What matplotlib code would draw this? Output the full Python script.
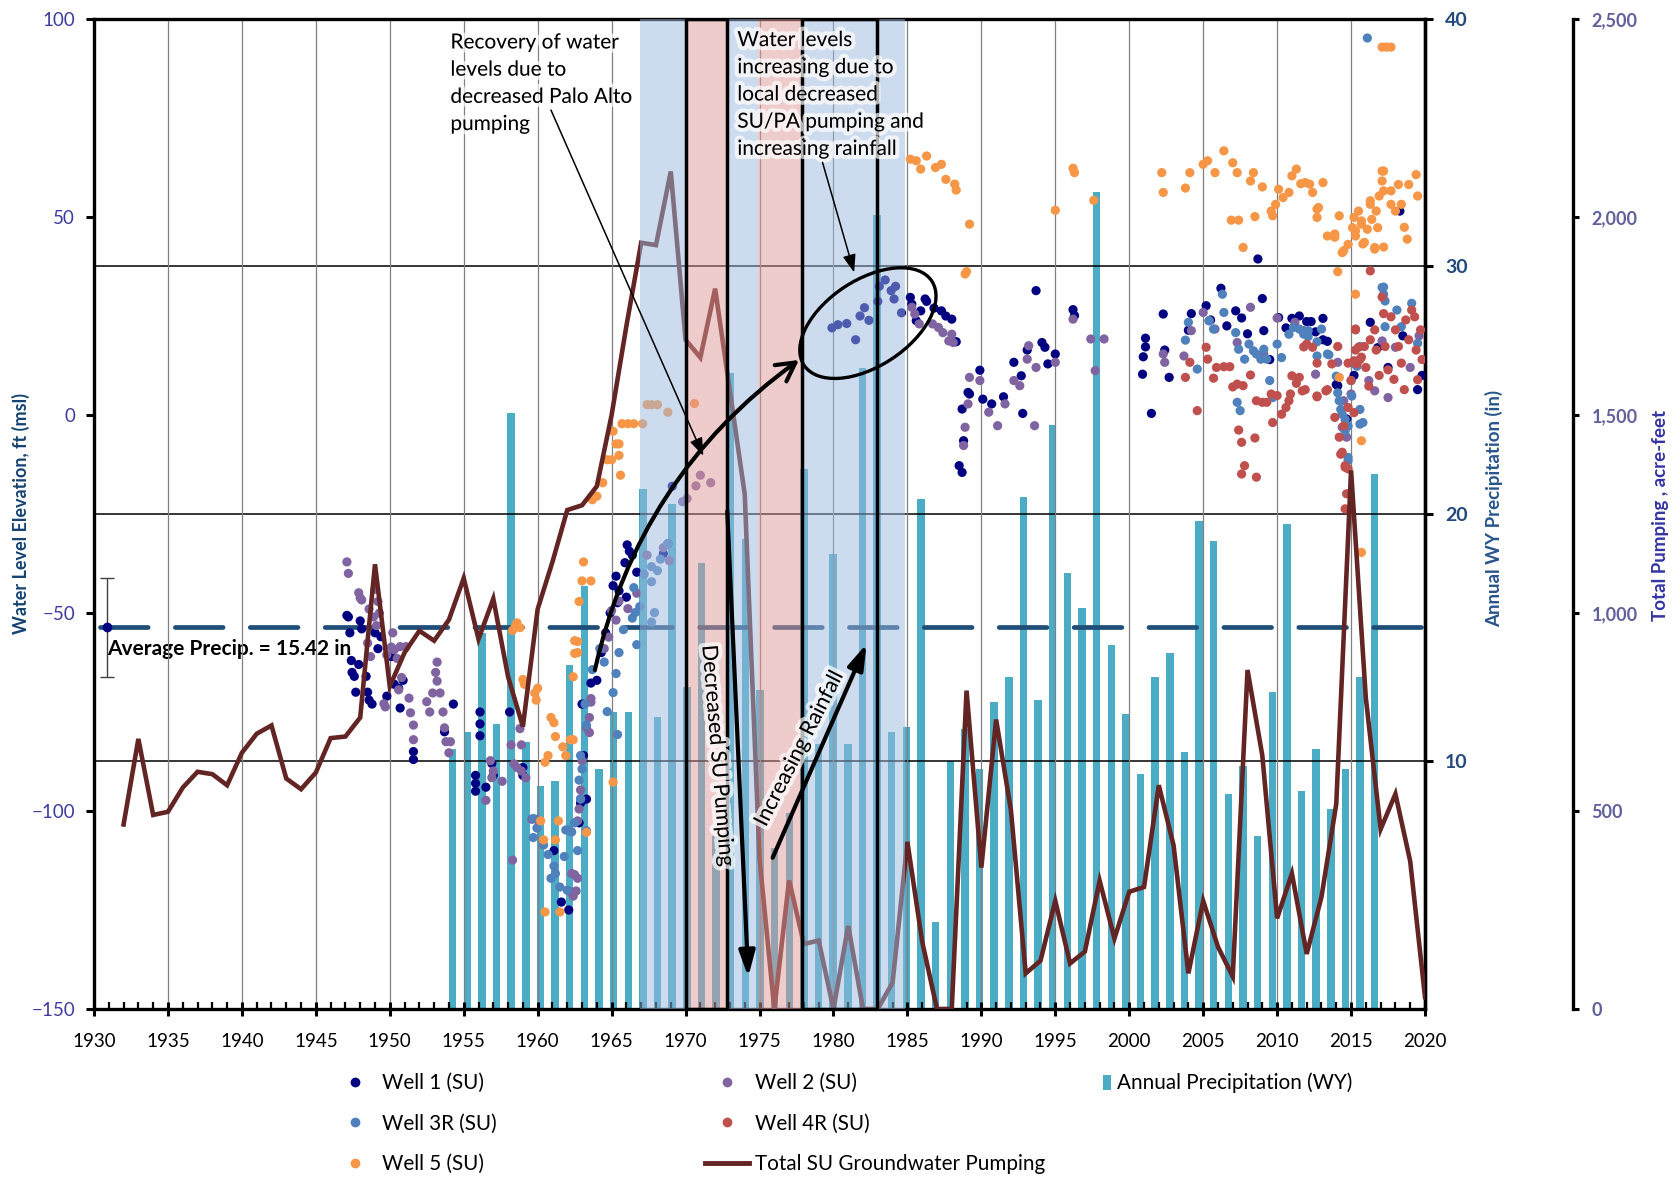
import numpy as np
import matplotlib
matplotlib.use("Agg")
import matplotlib.pyplot as plt
from matplotlib.lines import Line2D
from matplotlib.patches import Patch, Ellipse
import matplotlib.transforms as mtransforms
import matplotlib.patheffects as pe
from matplotlib.ticker import FuncFormatter, MultipleLocator

plt.rcParams['font.family'] = ['Lato', 'DejaVu Sans']

# ---------------- data ----------------
# Annual water-year precipitation (in), WY 1954-2017
precip_years = list(range(1954, 2018))
precip_in = [10.5, 11.2, 15.2, 11.5, 24.1, 10.8, 9.0, 9.2, 13.9, 17.1,
             9.7, 12.0, 12.0, 21.0, 11.8, 20.4, 13.0, 18.0, 7.0, 25.7,
             19.0, 12.9, 6.5, 7.9, 21.8, 10.7, 18.4, 10.7, 25.9, 32.1,
             11.2, 11.4, 20.6, 3.5, 10.0, 11.3, 9.7, 12.4, 13.4, 20.7,
             12.5, 23.6, 17.6, 16.2, 33.0, 14.7, 11.9, 9.5, 13.4, 14.4,
             10.4, 19.7, 18.9, 8.7, 9.8, 7.0, 12.8, 19.6, 8.8, 10.5,
             8.1, 9.7, 13.4, 21.6]
AVG_PRECIP = 15.42

# Total SU groundwater pumping (acre-feet), 1932-2020
pump_years = list(range(1932, 2021))
pump_af = [466, 682, 490, 498, 559, 599, 593, 565, 647, 695,
           716, 582, 555, 597, 684, 688, 736, 1123, 815, 900,
           955, 930, 983, 1088, 934, 1036, 839, 713, 1010, 1129,
           1260, 1272, 1320, 1500, 1725, 1935, 1929, 2115, 1690, 1645,
           1819, 1560, 1300, 380, 0, 325, 164, 173, 0, 210,
           0, 0, 67, 422, 170, 0, 0, 804, 357, 731,
           502, 90, 122, 273, 115, 145, 324, 178, 296, 308,
           565, 413, 90, 273, 157, 82, 856, 640, 229, 342,
           139, 283, 518, 1360, 785, 454, 543, 373, 30]

# Water level measurements (decimal year, ft msl)
well1 = [(1947.1, -50.6), (1947.2, -51), (1947.3, -55), (1947.4, -62), (1947.45, -65),
         (1947.6, -66), (1947.7, -70), (1947.9, -63), (1948.0, -52), (1948.1, -54),
         (1948.4, -66), (1948.5, -70), (1948.6, -72), (1948.8, -73), (1949.0, -55),
         (1949.2, -59), (1949.4, -56), (1949.8, -71), (1950.1, -61), (1950.3, -68),
         (1950.6, -69), (1950.7, -74), (1950.9, -67), (1951.6, -85), (1951.6, -87),
         (1953.7, -80), (1954.3, -73), (1955.8, -91), (1955.8, -93), (1955.8, -95),
         (1956.1, -75), (1956.1, -78), (1956.1, -81), (1956.5, -94), (1956.9, -88),
         (1957.0, -91), (1958.1, -75), (1959.0, -89), (1959.0, -91), (1961.1, -110),
         (1961.6, -123), (1962.1, -125), (1962.8, -103), (1962.9, -98), (1963.1, -86),
         (1963.0, -73), (1963.3, -97), (1963.6, -67.7), (1964.0, -67), (1964.3, -60),
         (1964.6, -55), (1964.9, -50), (1965.1, -43.1), (1965.3, -40.7), (1965.4, -47.4),
         (1965.5, -44.4), (1965.9, -37.3), (1966.0, -46), (1966.05, -32.8), (1966.2, -34.4),
         (1966.4, -35.4), (1966.7, -39.7), (1968.5, -35), (1968.8, -32.5), (1969.1, -18),
         (1979.9, 22), (1980.3, 22.8), (1980.9, 23.1), (1981.5, 19), (1981.8, 25),
         (1982.1, 27.1), (1982.4, 23.9), (1983.0, 28.7), (1983.1, 32.5), (1983.5, 34.1),
         (1983.9, 31.4), (1984.2, 32.5), (1984.1, 29.3), (1984.6, 25.8),
         (1985.2, 29.7), (1985.3, 28), (1985.6, 23.8), (1985.9, 26.3), (1986.2, 29.3),
         (1986.3, 28.7), (1986.8, 27), (1987.3, 26.3), (1987.6, 25), (1988.0, 24.2),
         (1988.3, 18.5), (1988.7, 1.5), (1988.8, -6.5), (1988.5, -12.8), (1988.7, -14.5),
         (1989.1, 5.7), (1989.2, 5.3), (1989.9, 11.3), (1990.1, 4), (1990.7, 2.8),
         (1991.5, 4.6), (1992.2, 13.3), (1992.7, 9.9), (1993.1, 16.4), (1993.7, 31.4),
         (1994.1, 18.3), (1994.3, 17.1), (1994.5, 12.9), (1995.0, 15.4), (1992.8, 0.4),
         (1996.2, 26.6), (1996.3, 25.1),
         (2000.9, 10.3), (2001.1, 17.2), (2001.1, 19.4), (2000.95, 14.7), (2001.5, 0.4),
         (2002.3, 25.5), (2002.4, 16.4), (2002.7, 9.5), (2004.2, 25.6), (2004.0, 21.4),
         (2005.2, 27.6), (2005.5, 24), (2006.2, 32), (2006.6, 22.5), (2007.2, 26.3),
         (2007.6, 24.5), (2008.0, 20.5), (2008.7, 39.4), (2009.0, 29.4), (2009.1, 21.3),
         (2009.5, 14), (2010.1, 24.6), (2010.6, 22), (2011.0, 24.4), (2011.5, 25),
         (2012.0, 23.6), (2012.3, 23.6), (2012.6, 21), (2013.1, 24.4), (2013.1, 19),
         (2013.4, 18.6), (2014.0, 7.7), (2014.1, 7.4), (2014.7, -1), (2015.2, 10),
         (2016.3, 23.4), (2016.8, 17), (2017.5, 12), (2018.3, 51.5), (2018.5, 20),
         (2019.5, 6.4), (2019.8, 10)]

well2 = [(1947.1, -37.1), (1947.2, -40), (1947.9, -44.9), (1948.0, -46.2), (1948.1, -46.7),
         (1948.6, -49), (1949.0, -44), (1949.3, -50), (1949.2, -47.1), (1948.9, -51),
         (1949.1, -53.2), (1948.5, -57.6), (1948.7, -61), (1950.2, -55), (1950.1, -58.6),
         (1950.3, -59.3), (1950.7, -58.5), (1951.1, -58.5), (1949.8, -60.6), (1950.5, -61.5),
         (1949.6, -72.9), (1949.7, -73.7), (1950.8, -66.3), (1950.6, -69.4), (1951.3, -71.5),
         (1951.4, -75.2), (1951.6, -78.3), (1951.6, -82), (1952.5, -72.4), (1952.7, -75),
         (1952.9, -70.2), (1953.1, -65), (1953.2, -62.4), (1953.4, -70.2), (1953.6, -75),
         (1953.2, -67.2), (1953.7, -79), (1953.8, -82.5), (1954.1, -82.5), (1954.0, -85.3),
         (1956.8, -87.3), (1957.0, -89.9), (1956.9, -91.6), (1956.5, -97.3), (1957.6, -92.5),
         (1958.2, -83.3), (1958.9, -83.3), (1958.4, -88.1), (1958.6, -89), (1958.9, -89.9),
         (1959.2, -91.6), (1958.8, -79.2), (1958.3, -112.4), (1959.6, -102.1), (1959.9, -102.1),
         (1962.5, -116.1), (1962.2, -120.4), (1962.4, -121.5), (1962.7, -117), (1962.7, -102.5),
         (1962.9, -96.9), (1963.0, -87.3), (1963.3, -79), (1963.5, -76.4), (1963.6, -71.6),
         (1963.6, -72.5), (1964.5, -59), (1964.8, -56.1), (1965.3, -51.8), (1965.0, -49.4),
         (1965.5, -47), (1966.1, -48.9), (1966.7, -45), (1967.4, -35.4), (1968.5, -33.5),
         (1968.9, -36.8), (1969.8, -21.9), (1970.1, -21.1), (1971.0, -15.2), (1970.7, -17.9),
         (1971.7, -17.1), (1962.9, -94.7), (1962.8, -99.5), (1963.5, -80.2), (1962.3, -115.8),
         (1962.6, -120.2),
         (1985.3, 27.2), (1985.5, 25.5), (1985.8, 23), (1986.7, 23), (1987.1, 22.1),
         (1987.4, 20.8), (1987.8, 18.7), (1988.0, 20.4), (1988.1, 18.3), (1989.2, 9.5),
         (1989.1, 2.8), (1988.9, -3.1), (1988.8, -7.7), (1989.9, 8.7), (1990.5, 0.7),
         (1991.1, -2.7), (1991.6, 2.8), (1992.2, 8.7), (1992.6, 7.4), (1993.1, 14.1),
         (1993.2, 17.5), (1993.7, 12), (1993.6, -2.7), (1995.0, 13.3), (1996.2, 24.2),
         (1997.4, 19.2), (1998.3, 19.2), (1997.7, 11.2), (2002.3, 15.4), (2002.4, 13.3),
         (2003.7, 14.9), (2004.2, 21.3), (2005.0, 25.9), (2005.4, 23.8), (2005.8, 21.7),
         (2007.3, 18.3), (2008.2, 27.2), (2009.1, 15.4), (2010.0, 24.5), (2011.2, 23.4),
         (2011.8, 21.3), (2012.6, 10.3), (2014.1, 13.3), (2014.5, 3.6), (2014.4, -3.1),
         (2014.7, -5.6), (2015.0, 5.3), (2015.2, 12.9), (2016.2, 8.7), (2016.6, 6.1),
         (2017.1, 18.7), (2017.5, 4.4), (2018.0, 17.1), (2019.0, 12), (2019.6, 20)]

well3r = [(1959.7, -101.9), (1959.95, -104.3), (1959.7, -106.7), (1960.4, -108.6), (1960.7, -111),
          (1960.9, -117), (1961.1, -113.9), (1961.2, -115.8), (1961.5, -119.2), (1961.9, -104.8),
          (1962.0, -120), (1962.1, -104.8), (1962.3, -105.3), (1961.8, -111.5), (1962.5, -103),
          (1962.7, -110), (1963.3, -105), (1962.9, -86), (1963.0, -89.4), (1962.8, -92.2),
          (1962.9, -97), (1963.3, -78.3), (1963.2, -73), (1963.7, -64.3), (1964.2, -59),
          (1964.5, -62.4), (1964.7, -74.9), (1965.1, -70.1), (1965.3, -65.3), (1965.5, -60),
          (1965.8, -54.2), (1966.4, -51.3), (1966.7, -58), (1966.6, -49.9), (1966.9, -48.4),
          (1966.5, -43.6), (1967.2, -40.2), (1967.7, -38.3), (1968.1, -39.3), (1968.3, -36.4),
          (1968.8, -32.5), (1967.7, -42.1), (1967.9, -49.9), (1967.7, -52.3), (1965.4, -80.7),
          (2003.8, 18.9), (2004.0, 23.4), (2004.6, 11.6), (2005.4, 23.8), (2005.7, 21.7),
          (2006.3, 30.5), (2006.4, 25.9), (2007.2, 20.8), (2007.3, 3.2), (2007.4, 16.6),
          (2007.5, 1.1), (2007.8, 14.1), (2008.1, 17.9), (2008.4, 16.2), (2008.6, 15.4),
          (2008.9, 14.1), (2009.1, 16.6), (2009.3, 14.1), (2009.5, 8.7), (2009.7, 4.4),
          (2010.0, 17.9), (2010.3, 14.5), (2010.8, 20.4), (2011.1, 22.1), (2011.5, 21.7),
          (2011.8, 20.4), (2012.1, 21.3), (2012.1, 19.8), (2012.7, 14.9), (2012.7, 18.5),
          (2013.0, 21.7), (2013.4, 15.4), (2013.5, 15.2), (2014.0, 9.8), (2014.1, 5.6),
          (2014.2, 3.6), (2014.3, 1.4), (2014.4, 0.2), (2014.6, -4), (2014.6, -1.1),
          (2014.8, -10.7), (2014.8, -11.5), (2014.8, -2.8), (2015.0, 8.7), (2015.05, 4.8),
          (2015.4, 12.3), (2015.6, -2.3), (2015.6, 1.4), (2015.6, 17.3), (2015.8, -1.9),
          (2016.1, 95.2), (2017.1, 32.2), (2017.2, 30.5), (2017.2, 32.3), (2017.3, 28.8),
          (2017.3, 22.3), (2018.1, 26.5), (2018.4, 22.3), (2019.1, 28.2), (2019.5, 18.1)]

well4r = [(2003.8, 9.5), (2004.1, 13.3), (2004.6, 1.1), (2005.2, 17.1), (2005.3, 14.1),
          (2005.7, 9.3), (2005.9, 12), (2006.4, 12.2), (2006.8, 12.2), (2007.0, 7.1),
          (2007.3, 7.8), (2007.4, -3.8), (2007.6, -6.9), (2007.6, -14.9), (2007.7, 7.4),
          (2007.8, -12.8), (2008.2, 10.1), (2008.5, -5.8), (2008.6, -15.7), (2008.6, 3.6),
          (2009.0, 3.2), (2009.3, 3.2), (2009.6, 5.3), (2009.7, -1.9), (2010.0, 4.9),
          (2010.3, 0.2), (2010.6, 1.9), (2010.8, 3.6), (2010.9, 5.3), (2011.0, 9.9),
          (2011.3, 8), (2011.5, 9.5), (2011.7, 6.1), (2011.8, 17.2), (2011.9, 6.4),
          (2012.0, 17.9), (2012.4, 17.1), (2012.7, 4.6), (2012.7, 13.1), (2012.7, 4.8),
          (2013.3, 6.1), (2013.4, 6.4), (2013.7, 12.9), (2013.9, -0.6), (2014.1, 17.3),
          (2014.2, -5.6), (2014.3, -9.9), (2014.4, -9.4), (2014.5, -2.8), (2014.6, -13.2),
          (2014.6, -12.8), (2014.6, -23.7), (2014.7, -19.9), (2014.8, -13.6), (2014.8, 1.9),
          (2014.8, 13.1), (2015.0, 8.7), (2015.2, 0.6), (2015.2, 13.7), (2015.3, 16.4),
          (2015.3, 21.7), (2015.3, 21.5), (2015.4, 12.9), (2015.5, 17.1), (2015.6, 14),
          (2015.7, 14.6), (2015.9, 17.3), (2016.2, 7.3), (2016.3, 19), (2016.3, 36.4),
          (2016.6, 21.5), (2016.7, 16.4), (2017.1, 29.8), (2017.2, 25.6), (2017.3, 17.3),
          (2017.5, 11.4), (2017.7, 24.8), (2018.0, 21.5), (2018.2, 17.3), (2018.4, 13.1),
          (2018.6, 6.4), (2018.9, 19), (2019.1, 26.5), (2019.3, 24.8), (2019.4, 16.4),
          (2019.5, 8.9), (2019.7, 21.5), (2016.0, 12), (2016.9, 10), (2017.9, 9),
          (2018.7, 24), (2019.8, 14)]

well5 = [(1958.3, -54.4), (1958.5, -53.2), (1958.6, -52.5), (1958.8, -53.7), (1959.0, -66.8),
         (1959.1, -68), (1959.8, -70.2), (1960.0, -69), (1959.9, -72), (1960.2, -102.5),
         (1960.4, -107.3), (1960.5, -125.5), (1960.9, -76.4), (1961.1, -77.7), (1961.2, -81.2),
         (1960.7, -86), (1960.5, -87.7), (1961.2, -107.3), (1961.4, -102.5), (1961.5, -125.5),
         (1961.7, -83.8), (1961.9, -86), (1962.2, -82), (1962.4, -82), (1962.7, -57.2),
         (1962.5, -60.2), (1962.4, -66.1), (1963.1, -37.1), (1963.0, -41.9), (1963.6, -41.9),
         (1962.8, -47.1), (1963.3, -105.4), (1963.7, -21.4), (1964.0, -20.5), (1964.4, -17.1),
         (1964.7, -11.3), (1965.0, -11.3), (1965.3, -7.3), (1965.5, -7.3), (1965.5, -10.2),
         (1965.6, -15.2), (1965.1, -4.1), (1965.7, -2.2), (1966.1, -2.2), (1966.5, -2.2),
         (1967.1, -2.2), (1967.4, 2.6), (1967.7, 2.6), (1968.1, 2.6), (1968.8, 0.7),
         (1970.6, 2.9), (1965.1, -92.7), (1962.5, -57), (1962.7, -60),
         (1985.2, 64.6), (1985.6, 64.2), (1985.9, 62.1), (1986.3, 65.4), (1986.9, 62.5),
         (1987.3, 63.3), (1987.6, 59.5), (1988.2, 58.3), (1988.3, 56.8), (1989.2, 48.2),
         (1988.9, 35.6), (1989.0, 36.2), (1995.0, 51.7), (1996.2, 62.3), (1996.3, 61.2),
         (1997.6, 54.2), (2002.2, 61.2), (2002.3, 56.2), (2003.8, 57.3), (2004.1, 61.2),
         (2005.0, 63.3), (2005.3, 64.2), (2005.8, 61.2), (2006.4, 66.7), (2007.0, 63.7),
         (2007.3, 61.2), (2006.9, 49.2), (2007.4, 49.2), (2007.7, 42.3), (2008.4, 61.2),
         (2008.2, 59.1), (2008.5, 50.1), (2009.0, 57.6), (2009.6, 51.5), (2009.7, 50.3),
         (2009.9, 53.2), (2010.1, 57), (2010.4, 54.9), (2010.8, 56.2), (2011.0, 60.4),
         (2011.3, 62.1), (2011.6, 58.4), (2011.9, 58.7), (2012.2, 58.3), (2012.4, 56.2),
         (2012.7, 52.0), (2012.8, 52.4), (2013.1, 58.7), (2012.7, 49.9), (2013.4, 45.2),
         (2013.9, 45.7), (2013.9, 44.9), (2014.1, 36.2), (2014.2, 50.3), (2014.2, 9.5),
         (2014.4, 41.0), (2014.5, 41.5), (2014.8, 43.1), (2015.1, 47.3), (2015.2, 49.9),
         (2015.3, 45.2), (2015.3, 30.5), (2015.3, 46.5), (2015.5, 51.5), (2015.7, 48.2),
         (2015.7, 49.0), (2015.7, -6.5), (2015.7, -34.7), (2015.8, 43.2), (2015.9, 43.6),
         (2016.1, 46.9), (2016.3, 54.1), (2016.3, 53.2), (2016.4, 49.4), (2016.6, 42.3),
         (2016.6, 41.9), (2016.7, 51.5), (2016.8, 47.3), (2016.9, 55.3), (2017.1, 59.1),
         (2017.1, 61.6), (2017.2, 61.6), (2017.2, 56.6), (2017.2, 42.4), (2017.1, 92.9),
         (2017.4, 92.9), (2017.7, 92.9), (2017.7, 56.6), (2017.7, 53.2), (2018.0, 51.5),
         (2018.2, 58.2), (2018.4, 53.2), (2018.6, 47.4), (2018.8, 44.4), (2018.9, 58.2),
         (2019.4, 60.7), (2019.5, 55.3)]

# ---------------- styles ----------------
C_W1, C_W2, C_W3, C_W4, C_W5 = '#000080', '#8064A2', '#4F81BD', '#C0504D', '#F79646'
C_BAR = '#4BACC6'
C_PUMP = '#632523'
C_AVG = '#1F4E79'

fig = plt.figure(figsize=(16.76, 11.77), dpi=100)
ax = fig.add_axes([0.05609, 0.14274, 0.79415, 0.84112])
ax_p = ax.twinx()   # precipitation
ax_q = ax.twinx()   # pumping

# layering: precipitation below, water levels above, pumping + notes on top
ax_p.set_zorder(1)
ax_p.patch.set_visible(True)
ax_p.patch.set_facecolor('white')
ax.set_zorder(2)
ax.patch.set_visible(False)
ax_q.set_zorder(3)
ax_q.patch.set_visible(False)

# ---------------- precipitation axis ----------------
bar_x = np.linspace(1954.25, 2016.6, len(precip_years))
ax_p.bar(bar_x, precip_in, width=0.5, color=C_BAR, zorder=1)
ax_p.plot([1930.4, 2020], [AVG_PRECIP, AVG_PRECIP], color=C_AVG, lw=3.4,
          dashes=(10.1, 5.76), dash_capstyle='round', solid_capstyle='round', zorder=2)
ax_p.errorbar([1930.9], [AVG_PRECIP], yerr=[2.0], fmt='o', color=C_W1, ms=6,
              ecolor='#404040', elinewidth=1, capsize=5, capthick=1, zorder=3)
ax_p.set_ylim(0, 40)
ax_p.set_yticks([10, 20, 30, 40])
ax_p.yaxis.grid(True, color='black', lw=1.1)
ax_p.tick_params(axis='y', direction='out', length=5.5, width=2.2, pad=9,
                 labelsize=14, labelcolor='#24497E')
for lab in ax_p.get_yticklabels():
    lab.set_fontweight('bold')
for s in ['top', 'bottom', 'left']:
    ax_p.spines[s].set_visible(False)
ax_p.spines['right'].set_linewidth(2.4)

# ---------------- water levels ----------------
for data, col in [(well1, C_W1), (well2, C_W2), (well3r, C_W3), (well4r, C_W4), (well5, C_W5)]:
    xs, ys = zip(*data)
    ax.scatter(xs, ys, s=44, color=col, edgecolors='none', zorder=3)

ax.text(1930.9, -59, 'Average Precip. = 15.42 in', fontsize=15, fontweight='bold',
        ha='left', va='center', zorder=1)

ax.set_xlim(1930, 2020)
ax.set_ylim(-150, 100)
ax.set_yticks([-150, -100, -50, 0, 50, 100])
ax.xaxis.set_major_locator(MultipleLocator(5))
ax.xaxis.set_minor_locator(MultipleLocator(1))
ax.xaxis.grid(True, which='major', color='#808080', lw=0.9)
ax.tick_params(axis='x', which='major', direction='inout', length=10, width=2.2,
               pad=12, labelsize=13.5)
ax.tick_params(axis='x', which='minor', direction='in', length=5, width=1.6)
ax.tick_params(axis='y', direction='out', length=6, width=2.2, pad=7.5,
               labelsize=13.5, labelcolor='#3C3CA0')
for s in ax.spines.values():
    s.set_linewidth(2.4)

# ---------------- pumping ----------------
ax_q.plot(pump_years, pump_af, color=C_PUMP, lw=3.3, zorder=0.8, solid_joinstyle='miter')
ax_q.set_ylim(0, 2500)
ax_q.set_yticks([0, 500, 1000, 1500, 2000, 2500])
ax_q.yaxis.set_major_formatter(FuncFormatter(lambda v, p: f'{v:,.0f}'))
ax_q.spines['right'].set_position(('axes', 1.111))
ax_q.spines['right'].set_linewidth(2.4)
for s in ['top', 'bottom', 'left']:
    ax_q.spines[s].set_visible(False)
ax_q.tick_params(axis='y', direction='out', length=4.5, width=2.2, pad=9,
                 labelsize=13, labelcolor='#60609C')
for lab in ax_q.get_yticklabels():
    lab.set_fontweight('bold')

# shaded periods
C_BLUE, C_RED = '#9DB9DF', '#E09A9A'
for x0, x1 in [(1966.9, 1970.0), (1972.8, 1974.92), (1977.85, 1984.84)]:
    ax_q.axvspan(x0, x1, color=C_BLUE, alpha=0.5, lw=0, zorder=1)
for x0, x1 in [(1970.0, 1972.8), (1974.92, 1977.85)]:
    ax_q.axvspan(x0, x1, color=C_RED, alpha=0.5, lw=0, zorder=1)
for x0, x1 in [(1970.0, 1972.8), (1977.85, 1982.95)]:
    ax_q.axvspan(x0, x1, fill=False, edgecolor='black', lw=2.5, zorder=2)

# ---------------- annotations ----------------
halo = [pe.withStroke(linewidth=6, foreground='white', alpha=0.7)]
td = ax.transData

ax_q.text(1954.1, 96.6, 'Recovery of water\nlevels due to\ndecreased Palo Alto\npumping',
          transform=td, fontsize=15, ha='left', va='top', linespacing=1.45, zorder=5,
          path_effects=halo)
ax_q.text(1973.5, 97.2, 'Water levels\nincreasing due to\nlocal decreased\nSU/PA pumping and\nincreasing rainfall',
          transform=td, fontsize=15, ha='left', va='top', linespacing=1.45, zorder=5,
          path_effects=halo)
ax_q.text(1972.15, -86.0, 'Decreased SU Pumping', transform=td, fontsize=15.5,
          rotation=-85.3, rotation_mode='anchor', ha='center', va='center', zorder=5,
          path_effects=halo)
ax_q.text(1977.7, -84.2, 'Increasing Rainfall', transform=td, fontsize=15.5,
          rotation=63, rotation_mode='anchor', ha='center', va='center', zorder=5,
          path_effects=halo)

def arrow(start, end, style, lw, rad=0.0, scale=20):
    ax_q.annotate('', xy=end, xycoords=td, xytext=start, textcoords=td,
                  arrowprops=dict(arrowstyle=style, color='black', lw=lw,
                                  shrinkA=0, shrinkB=0, mutation_scale=scale,
                                  connectionstyle=f'arc3,rad={rad}'),
                  zorder=6)

arrow((1960.9, 77.0), (1971.2, -10.3), '-|>,head_length=0.6,head_width=0.22', 1.1, scale=18)
arrow((1979.26, 63.8), (1981.4, 36.0), '-|>,head_length=0.6,head_width=0.22', 1.1, scale=18)
arrow((1963.87, -64.4), (1977.67, 13.9), '->,head_length=0.55,head_width=0.3', 3.0, rad=-0.19, scale=24)
arrow((1972.82, -24.3), (1974.24, -141.9), '-|>,head_length=0.7,head_width=0.22', 3.0, scale=22)
arrow((1975.89, -111.8), (1982.24, -57.8), '-|>,head_length=0.7,head_width=0.22', 3.0, scale=22)

ell = Ellipse((0, 0), 1.53, 0.86, angle=33.4, fill=False, ec='black', lw=2.4,
              transform=fig.dpi_scale_trans + mtransforms.ScaledTranslation(1982.33, 23.2, td),
              zorder=6)
ax_q.add_patch(ell)
ax_q.set_ylim(0, 2500)
ax_q.set_xlim(1930, 2020)

# ---------------- axis titles ----------------
fig.text(0.0125, 0.5633, 'Water Level Elevation, ft (msl)', rotation=90, ha='center',
         va='center', fontsize=13, fontweight='bold', color='#144272')
fig.text(0.8914, 0.5684, 'Annual WY Precipitation (in)', rotation=90, ha='center',
         va='center', fontsize=13.5, fontweight='bold', color='#28558C')
fig.text(0.9905, 0.5624, 'Total Pumping , acre-feet', rotation=90, ha='center',
         va='center', fontsize=13.5, fontweight='bold', color='#3434A4')

# ---------------- legend ----------------
def dot(c):
    return Line2D([], [], ls='none', marker='o', ms=6, color=c)

common = dict(loc='upper left', frameon=False, fontsize=14.9, borderpad=0,
              borderaxespad=0, labelspacing=1.0, handletextpad=0.28)
fig.legend([dot(C_W1), dot(C_W3), dot(C_W5)], ['Well 1 (SU)', 'Well 3R (SU)', 'Well 5 (SU)'],
           bbox_to_anchor=(0.1987, 0.0885), handlelength=2.1, **common)
fig.legend([dot(C_W2), dot(C_W4), Line2D([], [], color=C_PUMP, lw=3.5)],
           ['Well 2 (SU)', 'Well 4R (SU)', 'Total SU Groundwater Pumping'],
           bbox_to_anchor=(0.4209, 0.0885), handlelength=2.1, **common)
fig.legend([Patch(facecolor=C_BAR)], ['Annual Precipitation (WY)'],
           bbox_to_anchor=(0.6580, 0.0885), handlelength=0.42, handleheight=0.75, **common)

fig.savefig('out.png', dpi=100)
